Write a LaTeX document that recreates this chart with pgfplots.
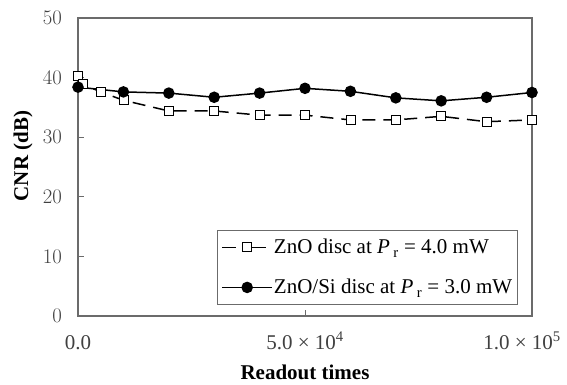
\documentclass[border=0pt]{standalone}
\usepackage{pgfplots}
\pgfplotsset{compat=1.18}
\usepackage{fontspec}
\setmainfont{Liberation Serif}
\definecolor{axgray}{gray}{0.42}
\definecolor{lblgray}{gray}{0.25}
\pgfplotsset{
  legdashed/.style={legend image code/.code={\draw[##1, dash pattern=on 14pt off 6pt on 40pt off 0pt,
     mark repeat=2, mark phase=2] plot coordinates {(0pt,0pt) (25pt,0pt) (44pt,0pt)};}},
  legsolid/.style={legend image code/.code={\draw[##1, mark repeat=2, mark phase=2]
     plot coordinates {(0pt,0pt) (25pt,0pt) (50pt,0pt)};}},
}
\begin{document}
\begin{tikzpicture}[x=1pt,y=1pt]
\begin{axis}[
  name=ax,
  scale only axis,
  width=454pt, height=298pt,
  xmin=0, xmax=100000, ymin=0, ymax=50,
  axis line style={axgray, line width=1.2pt},
  tick style={axgray, line width=1pt},
  tick align=inside, tick pos=left,
  major tick length=6pt,
  ytick={0,10,20,30,40,50},
  xtick={0,50000,100000},
  xticklabels={0.0,
    5.0 × 10\textsuperscript{4},
    \makebox[0pt][c]{\hspace*{-20pt}1.0 × 10\textsuperscript{5}}},
  scaled x ticks=false,
  font=\fontsize{21}{25}\selectfont,
  yticklabel style={text=lblgray, anchor=east, inner sep=0pt, xshift=-16pt},
  xticklabel style={text=lblgray, anchor=base, inner sep=0pt, yshift=-33pt},
  ylabel={\textbf{CNR (dB)}},
  xlabel={\textbf{Readout times}},
  ylabel style={at={(axis description cs:-0.121,0.537)}, anchor=center},
  xlabel style={at={(axis description cs:0.5,-0.19)}, anchor=center},
  legend style={at={(0.306,0.037)}, anchor=south west, draw=axgray, line width=1pt,
    font=\fontsize{21}{25}\selectfont, row sep=22pt, inner xsep=4pt, inner ysep=8pt,
    nodes={inner sep=1pt}},
  legend cell align=left,
  clip=false,
]
\addplot[black, line width=1.5pt, dash pattern=on 13pt off 8pt,
  mark=square*, mark options={solid, fill=white, draw=black, line width=0.8pt}, mark size=4.5pt,
  legdashed]
coordinates {
(0,40.3) (1000,38.9) (5000,37.6) (10000,36.2) (20000,34.4) (30000,34.4)
(40000,33.7) (50000,33.7) (60000,32.9) (70000,32.9) (80000,33.5) (90000,32.6) (100000,32.9)
};
\addlegendentry{ZnO disc at \textit{P}\,\textsubscript{r} = 4.0 mW}
\addplot[black, line width=1.5pt, mark=*, mark size=5pt, legsolid]
coordinates {
(0,38.4) (10000,37.6) (20000,37.4) (30000,36.7) (40000,37.4) (50000,38.2)
(60000,37.7) (70000,36.6) (80000,36.1) (90000,36.7) (100000,37.5)
};
\addlegendentry{ZnO/Si disc at \textit{P}\,\textsubscript{r} = 3.0 mW}
\end{axis}
\pgfresetboundingbox
\path ([shift={(-78pt,-69pt)}]ax.south west) rectangle ([shift={(35pt,18pt)}]ax.north east);
\end{tikzpicture}
\end{document}
